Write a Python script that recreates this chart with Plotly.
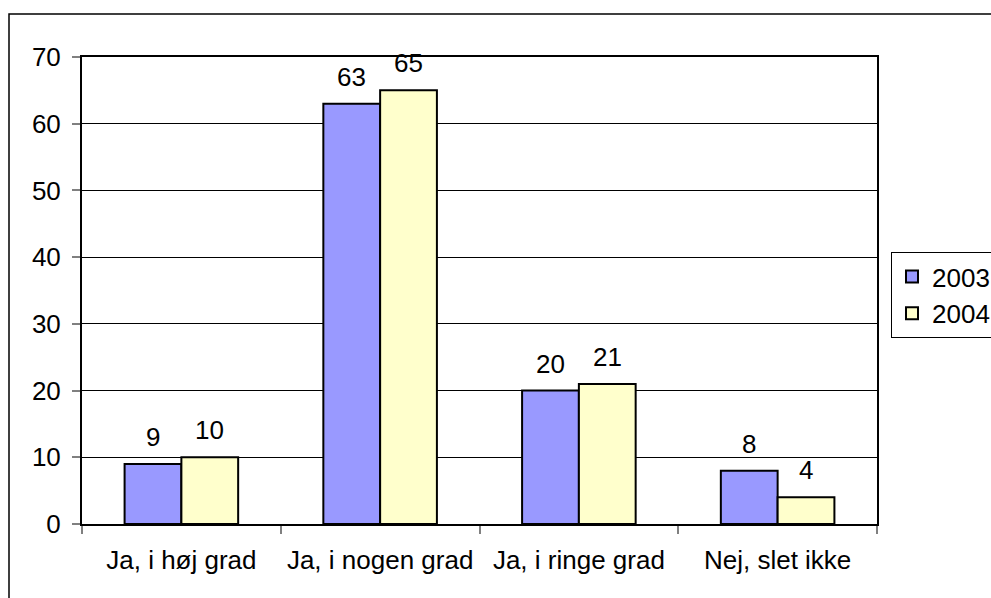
import plotly.graph_objects as go

categories = ["Ja, i høj grad", "Ja, i nogen grad", "Ja, i ringe grad", "Nej, slet ikke"]
values_2003 = [9, 63, 20, 8]
values_2004 = [10, 65, 21, 4]
series_names = ["2003", "2004"]
y_ticks = [0, 10, 20, 30, 40, 50, 60, 70]

FONT = "Liberation Sans, Arial, sans-serif"
FS = 26

fig = go.Figure()
fig.add_trace(go.Bar(
    name=series_names[0], x=categories, y=values_2003,
    marker=dict(color="#9999FF", line=dict(color="black", width=2)),
))
fig.add_trace(go.Bar(
    name=series_names[1], x=categories, y=values_2004,
    marker=dict(color="#FFFFCC", line=dict(color="black", width=2)),
))

# value labels above each bar
half = (877 - 82) / 4 / 3.5 / 2
for vals, shift in ((values_2003, -half), (values_2004, half)):
    for c, v in zip(categories, vals):
        fig.add_annotation(x=c, y=v, xref="x", yref="y", text=str(v),
                           showarrow=False, xshift=shift, yanchor="bottom",
                           yshift=10, font=dict(family=FONT, size=FS, color="black"))

# outer chart frame
L, R, T, B = 82, 877, 57, 524
pw, ph = R - L, B - T
fig.add_shape(type="rect", xref="paper", yref="paper", layer="below",
              x0=(9 - L) / pw, x1=(1005 - L) / pw,
              y0=(B - 610) / ph, y1=(B - 14) / ph,
              line=dict(color="black", width=1.5), fillcolor="rgba(0,0,0,0)")

fig.update_layout(
    width=991, height=598,
    margin=dict(l=L, r=991 - R, t=T, b=598 - B, pad=0, autoexpand=False),
    paper_bgcolor="white", plot_bgcolor="white",
    barmode="group", bargap=1.5 / 3.5, bargroupgap=0,
    font=dict(family=FONT, size=FS, color="black"),
    legend=dict(x=(891 - L) / pw, y=(B - 252) / ph, xanchor="left", yanchor="top",
                bordercolor="black", borderwidth=1, bgcolor="white",
                font=dict(family=FONT, size=FS, color="black"),
                tracegroupgap=0, itemwidth=30),
    showlegend=True,
)
fig.update_xaxes(
    showline=True, linecolor="black", linewidth=2, mirror=True,
    ticks="outside", ticklen=8, tickwidth=2, tickcolor="#808080",
    tickson="boundaries", showgrid=False, ticklabelstandoff=12,
    tickfont=dict(family=FONT, size=FS, color="black"),
)
fig.update_yaxes(
    range=[0, 70], tickvals=y_ticks,
    showline=True, linecolor="black", linewidth=2, mirror=True,
    ticks="outside", ticklen=8, tickwidth=2, tickcolor="#808080",
    showgrid=True, gridcolor="black", gridwidth=1, zeroline=False,
    ticklabelstandoff=6,
    tickfont=dict(family=FONT, size=FS, color="black"),
)

fig.write_html("out.html")
